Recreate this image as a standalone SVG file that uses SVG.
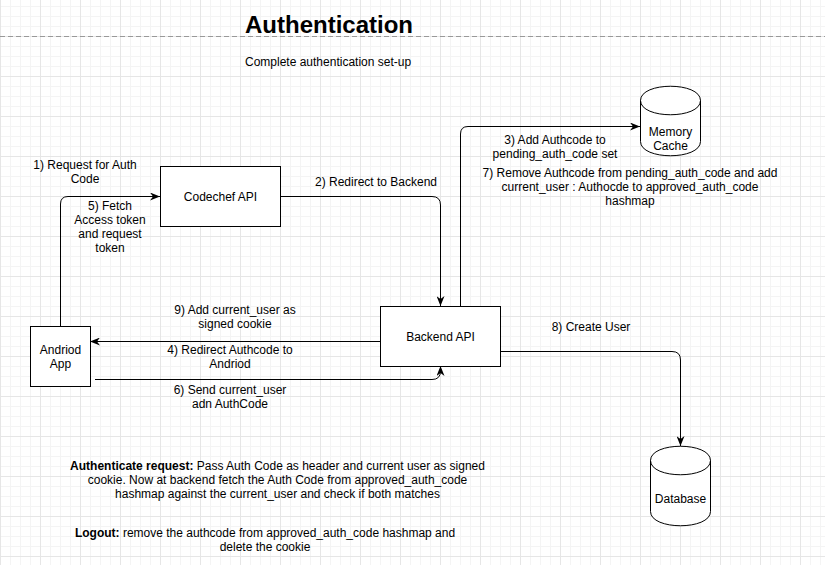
<svg xmlns="http://www.w3.org/2000/svg" width="825" height="565" viewBox="0 0 825 565">
<style>
text{font-family:"Liberation Sans",Arial,Helvetica,sans-serif;font-size:12px;fill:#000}
.c{text-anchor:middle}
.node{fill:#fff;stroke:#000;stroke-width:1}
.edge{fill:none;stroke:#000;stroke-width:1}
.title{font-size:24px;font-weight:bold}
</style>
<defs>
<pattern id="grid" width="40" height="40" patternUnits="userSpaceOnUse" x="0" y="-4">
<rect x="0" y="0" width="40" height="40" fill="#fff"/>
<rect x="10" y="0" width="1" height="40" fill="#f4f4f4"/>
<rect x="20" y="0" width="1" height="40" fill="#f4f4f4"/>
<rect x="30" y="0" width="1" height="40" fill="#f4f4f4"/>
<rect x="0" y="10" width="40" height="1" fill="#f4f4f4"/>
<rect x="0" y="20" width="40" height="1" fill="#f4f4f4"/>
<rect x="0" y="30" width="40" height="1" fill="#f4f4f4"/>
<rect x="0" y="0" width="1" height="40" fill="#e6e6e6"/>
<rect x="0" y="0" width="40" height="1" fill="#e6e6e6"/>
</pattern>
<marker id="arr" viewBox="0 0 10 8" refX="10" refY="4" markerWidth="10" markerHeight="8" markerUnits="userSpaceOnUse" orient="auto">
<path d="M0,0 L10,4 L0,8 L3,4 Z" fill="#000"/>
</marker>
</defs>
<rect x="0" y="0" width="825" height="565" fill="url(#grid)"/>
<line x1="0" y1="36.5" x2="825" y2="36.5" stroke="#999" stroke-width="1" stroke-dasharray="5 3"/>
<text x="245" y="33" class="title">Authentication</text>
<text x="245" y="66">Complete authentication set-up</text>

<g id="connectors">
<path class="edge" d="M60.5,326 L60.5,204 Q60.5,196.5 68,196.5 L160,196.5" marker-end="url(#arr)"/>
<path class="edge" d="M280,196.5 L432,196.5 Q440.5,196.5 440.5,205 L440.5,306" marker-end="url(#arr)"/>
<path class="edge" d="M460.5,306 L460.5,134 Q460.5,126.5 468,126.5 L640,126.5" marker-end="url(#arr)"/>
<path class="edge" d="M380,341.5 L90,341.5" marker-end="url(#arr)"/>
<path class="edge" d="M95,379.5 L432,379.5 Q440.5,379.5 440.5,371 L440.5,366" marker-end="url(#arr)"/>
<path class="edge" d="M500,351.5 L672,351.5 Q680.5,351.5 680.5,360 L680.5,446" marker-end="url(#arr)"/>
<text x="85" y="169" class="c">1) Request for Auth</text>
<text x="85" y="183" class="c">Code</text>
<text x="110" y="210" class="c">5) Fetch</text>
<text x="110" y="224" class="c">Access token</text>
<text x="110" y="238" class="c">and request</text>
<text x="110" y="252" class="c">token</text>
<text x="376" y="186" class="c">2) Redirect to Backend</text>
<text x="555" y="144" class="c">3) Add Authcode to</text>
<text x="555" y="158" class="c">pending_auth_code set</text>
<text x="630" y="177" class="c">7) Remove Authcode from pending_auth_code and add</text>
<text x="630" y="191" class="c">current_user : Authocde to approved_auth_code</text>
<text x="630" y="205" class="c">hashmap</text>
<text x="235" y="314" class="c">9) Add current_user as</text>
<text x="235" y="328" class="c">signed cookie</text>
<text x="230" y="354" class="c">4) Redirect Authcode to</text>
<text x="230" y="368" class="c">Andriod</text>
<text x="230" y="394" class="c">6) Send current_user</text>
<text x="230" y="408" class="c">adn AuthCode</text>
<text x="591" y="331" class="c">8) Create User</text>
</g>

<g id="codechef">
<rect class="node" x="160.5" y="166.5" width="120" height="60"/>
<text x="220.5" y="200.5" class="c">Codechef API</text>
</g>
<g id="android">
<rect class="node" x="30.5" y="326.5" width="60" height="60"/>
<text x="60.5" y="353.5" class="c">Andriod</text>
<text x="60.5" y="367.5" class="c">App</text>
</g>
<g id="backend">
<rect class="node" x="380.5" y="306.5" width="120" height="60"/>
<text x="440.5" y="340.5" class="c">Backend API</text>
</g>
<g id="memorycache">
<path class="node" d="M640.5,100.5 C640.5,81.5 700.5,81.5 700.5,100.5 L700.5,141.5 C700.5,160.5 640.5,160.5 640.5,141.5 Z"/>
<path class="edge" d="M640.5,100.5 C640.5,119.5 700.5,119.5 700.5,100.5"/>
<text x="670.5" y="136" class="c">Memory</text>
<text x="670.5" y="150" class="c">Cache</text>
</g>
<g id="database">
<path class="node" d="M650.5,460.5 C650.5,441.5 710.5,441.5 710.5,460.5 L710.5,511.5 C710.5,530.5 650.5,530.5 650.5,511.5 Z"/>
<path class="edge" d="M650.5,460.5 C650.5,479.5 710.5,479.5 710.5,460.5"/>
<text x="680.5" y="503" class="c">Database</text>
</g>

<g id="notes">
<text x="277.5" y="470" class="c"><tspan font-weight="bold">Authenticate request:</tspan> Pass Auth Code as header and current user as signed</text>
<text x="277.5" y="484" class="c">cookie. Now at backend fetch the Auth Code from approved_auth_code</text>
<text x="277.5" y="498" class="c">hashmap against the current_user and check if both matches</text>
<text x="265" y="537" class="c"><tspan font-weight="bold">Logout:</tspan> remove the authcode from approved_auth_code hashmap and</text>
<text x="265" y="551" class="c">delete the cookie</text>
</g>
</svg>
